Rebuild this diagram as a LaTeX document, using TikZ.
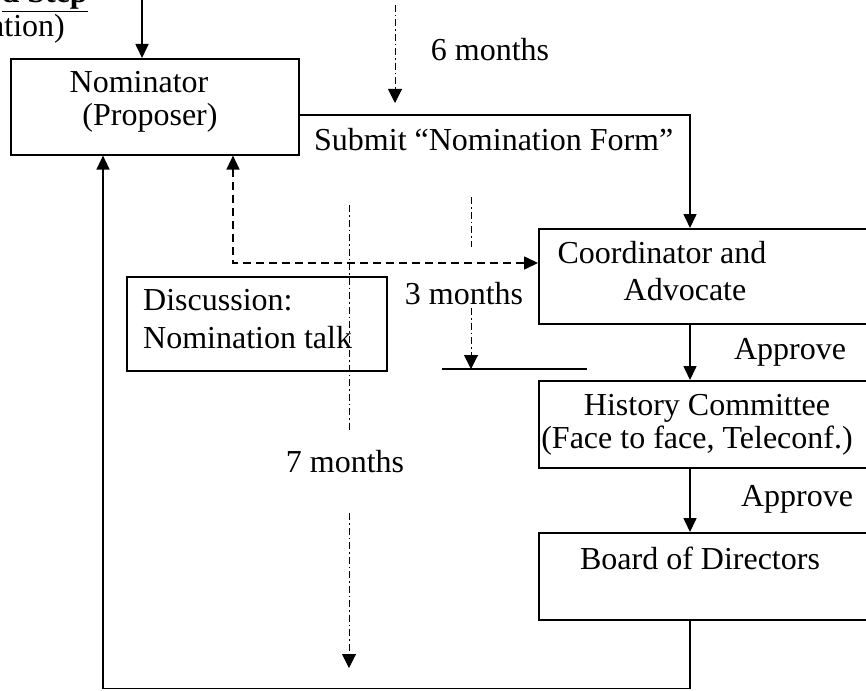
\documentclass[tikz,border=0pt]{standalone}
\usepackage{fontspec}
\setmainfont{Liberation Serif}
\usetikzlibrary{arrows.meta}
\usetikzlibrary{calc}

\tikzset{
  box/.style={draw, line width=1.6pt, inner sep=0pt, anchor=north west},
  txt/.style={inner sep=0pt},
  arr/.style={line width=1.6pt, -{Triangle[width=13pt,length=14pt]}},
  months/.style={line width=1pt, dash pattern=on 7pt off 3pt on 1.5pt off 3pt},
  monthsarr/.style={months, -{Triangle[width=14pt,length=14pt]}},
  talkarr/.style={line width=1.6pt, dash pattern=on 8pt off 5pt,
    {Triangle[width=13pt,length=14pt]}-{Triangle[width=13pt,length=14pt]}}
}

\begin{document}
\begin{tikzpicture}[x=1pt,y=-1pt,every node/.style={font=\fontsize{32}{38}\selectfont}]
\useasboundingbox (0,0) rectangle (866,690);
\clip (0,0) rectangle (866,690);

%heading, cut at the page edge
\node[txt,anchor=base east,font=\fontsize{32}{38}\selectfont\bfseries] (head) at (88,3) {\underline{d Step}};
\node[txt,anchor=base east] (headsub) at (65,37) {ation)};

%boxes
\node[box,minimum width=288pt,minimum height=96pt] (nom) at (10,58) {};
\node[box,minimum width=342pt,minimum height=95pt] (coord) at (538,228) {};
\node[box,minimum width=342pt,minimum height=87pt] (hist) at (538,380) {};
\node[box,minimum width=342pt,minimum height=87pt] (board) at (538,532) {};
\node[box,minimum width=260pt,minimum height=94pt] (talk) at (126,276) {};

%box texts
\node[txt] (nom1) at (139,82) {Nominator};
\node[txt] (nom2) at (150,118) {(Proposer)};
\node[txt] (coord1) at (662,253) {Coordinator and};
\node[txt] (coord2) at (685,290) {Advocate};
\node[txt] (hist1) at (707,408) {History Committee};
\node[txt] (hist2) at (697,441) {(Face to face, Teleconf.)};
\node[txt] (board1) at (700,558) {Board of Directors};
\node[txt,anchor=west] (talk1) at (143,300) {Discussion:};
\node[txt,anchor=west] (talk2) at (143,338) {Nomination talk};

%labels
\node[txt,anchor=west] (submit) at (314,140) {Submit “Nomination Form”};
\node[txt] (appr1) at (790,352) {Approve};
\node[txt] (appr2) at (797,499) {Approve};
\node[txt] (six) at (490,50) {6 months};
\node[txt] (three) at (464,294) {3 months};
\node[txt] (seven) at (345,462) {7 months};

%helper points
\coordinate (spine) at (690,0);
\coordinate (back) at (103,0);
\coordinate (topin) at (142,0);
\coordinate (dl) at (233,263);
\coordinate (bar1) at (442,369);
\coordinate (bar2) at (587,369);

%flow
\draw[arr] (topin) -- (topin |- nom.north);
\draw[arr] ($(nom.north east)+(0,57)$) -| (coord.north -| spine);
\draw[arr] (coord.south -| spine) -- (hist.north -| spine);
\draw[arr] (hist.south -| spine) -- (board.north -| spine);
\draw[arr] (board.south -| spine) -- ++(0,68) -| (nom.south -| back);
\draw[talkarr] (nom.south -| dl) -- (dl) -- (coord.west |- dl);
\draw[line width=1.6pt] (bar1) -- (bar2);

%time lines
\draw[monthsarr] (395,5) -- (395,103);
\draw[months] (471,197) -- (471,247);
\draw[monthsarr] (471,308) -- (bar1 -| 471,0);
\draw[months] (349,205) -- (349,430);
\draw[monthsarr] (349,513) -- (349,668);

\end{tikzpicture}
\end{document}
